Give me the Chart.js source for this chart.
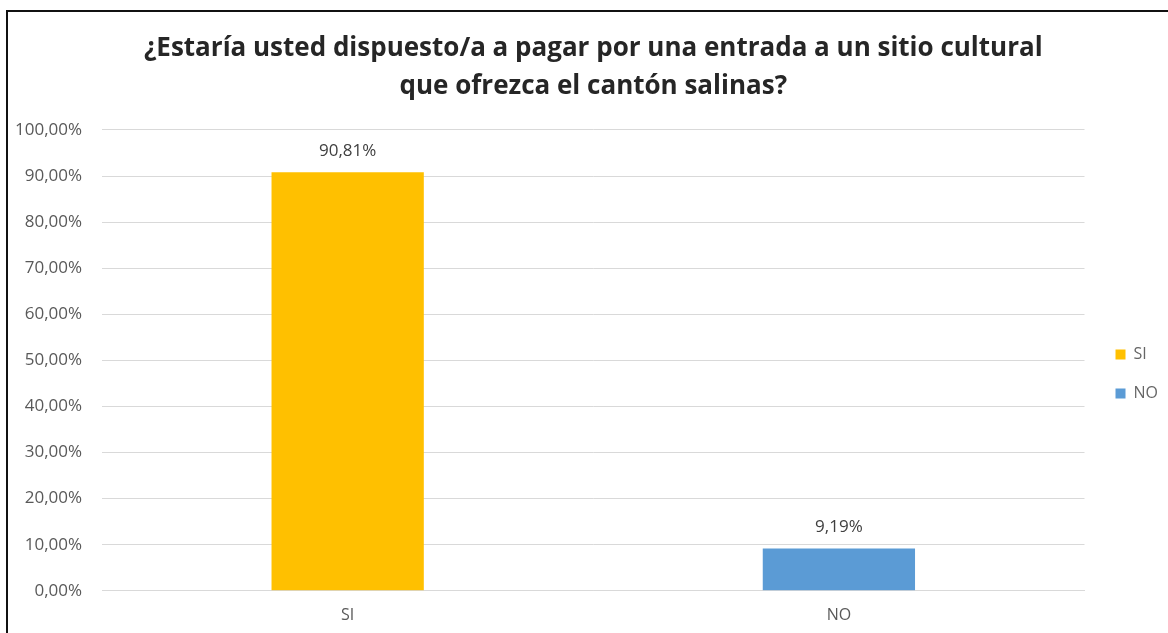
<!DOCTYPE html>
<html>
<head>
<meta charset="utf-8">
<script src="https://cdn.jsdelivr.net/npm/chart.js@4"></script>
<style>
  html, body { margin: 0; padding: 0; background: #fff; }
  #frame {
    position: absolute;
    left: 6px;
    top: 10px;
    width: 1162px;
    height: 623px;
    border-top: 2px solid #111;
    border-left: 2px solid #111;
    box-sizing: border-box;
  }
  #wrap { position: absolute; left: 0; top: 0; right: 0; bottom: 0; }
</style>
</head>
<body>
<div id="frame"><div id="wrap"><canvas id="chart"></canvas></div></div>
<script>
// Data
const categories = ["SI", "NO"];
const percentages = [90.81, 9.19];
const barColors = ["#FFC000", "#5B9BD5"];
const titleLines = [
  "¿Estaría usted dispuesto/a a pagar por una entrada a un sitio cultural",
  "que ofrezca el cantón salinas?",
];

const FONT = "'Open Sans', Lato, sans-serif";
const fmtPct = (v) => v.toFixed(2).replace(".", ",") + "%";

// Value labels above bars
const barLabels = {
  id: "barLabels",
  afterDatasetsDraw(c) {
    const ctx = c.ctx;
    const meta = c.getDatasetMeta(0);
    ctx.save();
    ctx.font = "17px " + FONT;
    ctx.fillStyle = "#404040";
    ctx.textAlign = "center";
    ctx.textBaseline = "middle";
    meta.data.forEach((bar, i) => {
      ctx.fillText(fmtPct(percentages[i]), bar.x, bar.y - 21);
    });
    ctx.restore();
  },
};

new Chart(document.getElementById("chart"), {
  type: "bar",
  data: {
    labels: categories,
    datasets: [
      {
        label: "Porcentaje",
        data: percentages,
        backgroundColor: barColors,
        borderWidth: 0,
        barPercentage: 0.31,
        categoryPercentage: 1,
      },
    ],
  },
  options: {
    responsive: true,
    maintainAspectRatio: false,
    animation: false,
    layout: {
      autoPadding: false,
      padding: { left: -13, right: 0, top: 0, bottom: -7 },
    },
    plugins: {
      title: {
        display: true,
        fullSize: false,
        text: titleLines,
        color: "#262626",
        font: { family: FONT, size: 26, weight: "bold", lineHeight: 1.46 },
        padding: { top: 18, bottom: 24 },
      },
      legend: {
        position: "right",
        title: {
          display: true,
          text: "",
          font: { size: 10, lineHeight: 1 },
          padding: { top: 0, bottom: 86 },
        },
        labels: {
          boxWidth: 10,
          boxHeight: 10,
          padding: 23,
          color: "#404040",
          font: { family: FONT, size: 16 },
          generateLabels: () =>
            categories.map((name, i) => ({
              text: name,
              fillStyle: barColors[i],
              strokeStyle: barColors[i],
              lineWidth: 0,
              index: i,
            })),
        },
      },
      tooltip: { enabled: false },
    },
    scales: {
      y: {
        min: 0,
        max: 100,
        ticks: {
          stepSize: 10,
          padding: 20,
          color: "#595959",
          font: { family: FONT, size: 17 },
          callback: (v) => fmtPct(Number(v)),
        },
        grid: { color: "#d9d9d9", drawTicks: false },
        border: { display: false },
      },
      // empty spacer between plot and legend
      gap: {
        type: "linear",
        position: "right",
        ticks: { display: false },
        grid: { display: false, drawTicks: false },
        border: { display: false },
        afterFit: (s) => {
          s.width = 8;
        },
      },
      x: {
        ticks: {
          padding: 15,
          color: "#595959",
          font: { family: FONT, size: 16 },
        },
        grid: { display: false, drawTicks: false },
        border: { color: "#d9d9d9" },
      },
    },
  },
  plugins: [barLabels],
});
</script>
</body>
</html>
